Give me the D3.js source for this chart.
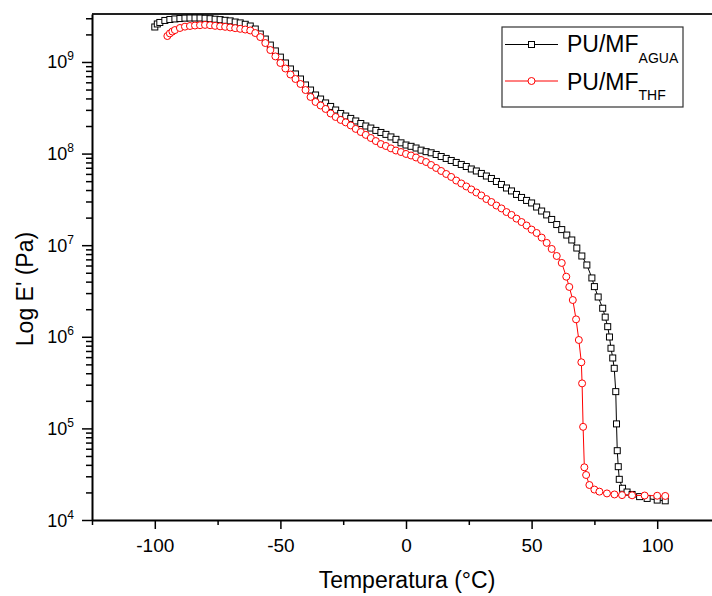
<!DOCTYPE html>
<html>
<head>
<meta charset="utf-8">
<script src="https://cdn.jsdelivr.net/npm/d3@7"></script>
<style>
  body { margin: 0; background: white; }
  svg { display: block; font-family: "Liberation Sans", Arial, sans-serif; }
</style>
</head>
<body>
<div id="chart"></div>
<script>
"use strict";

// PU/MF AGUA (black squares)
const tempAgua = [-100, -99, -98, -96, -94, -92, -90, -88, -86, -84, -82, -80, -78, -76, -74, -72, -70, -68, -66, -64, -62, -60,
  -58, -56, -54, -52, -50, -48, -46, -44, -42, -40, -38, -36, -34, -32, -30, -28, -26, -24, -22, -20, -18, -16, -14, -12, -10,
  -8, -6, -4, -2, 0, 2, 4, 6, 8, 10, 12, 14, 16, 18, 20, 22, 24, 26, 28, 30, 32, 34, 36, 38, 40, 42, 44, 46, 48, 50,
  52, 54, 56, 58, 60, 62, 64, 66, 68, 70, 72, 74, 75, 76.5, 78.3, 79.3, 80.3, 81, 81.6, 82.3, 82.9, 83.5, 83.8, 84.1, 84.5,
  84.9, 86.2, 88, 90, 93, 96, 100, 103.2];
const eAgua = [2.41e9, 2.60e9, 2.70e9, 2.84e9, 2.91e9, 2.95e9, 2.98e9, 3.01e9, 3.02e9, 3.02e9, 3.02e9, 3.00e9, 2.97e9, 2.93e9,
  2.90e9, 2.85e9, 2.81e9, 2.73e9, 2.67e9, 2.58e9, 2.47e9, 2.29e9,
  2.02e9, 1.78e9, 1.53e9, 1.32e9, 1.13e9, 9.75e8, 8.39e8, 7.40e8, 6.52e8, 5.61e8, 4.94e8, 4.36e8, 3.94e8, 3.57e8, 3.27e8,
  2.99e8, 2.74e8, 2.57e8, 2.42e8, 2.27e8, 2.13e8, 2.00e8, 1.90e8, 1.79e8, 1.70e8,
  1.62e8, 1.52e8, 1.43e8, 1.31e8, 1.24e8, 1.20e8, 1.15e8, 1.09e8, 1.05e8, 1.02e8, 9.78e7, 9.29e7, 8.85e7, 8.41e7, 8.00e7,
  7.61e7, 7.23e7, 6.79e7, 6.46e7, 6.07e7, 5.69e7, 5.35e7, 4.96e7, 4.60e7, 4.21e7, 3.91e7, 3.58e7, 3.32e7, 3.08e7, 2.89e7,
  2.61e7, 2.36e7, 2.14e7, 1.91e7, 1.68e7, 1.48e7, 1.29e7, 1.14e7, 9.31e6, 7.62e6, 6.08e6, 4.39e6, 3.53e6, 2.72e6, 2.05e6,
  1.64e6, 1.29e6, 9.95e5, 7.50e5, 5.87e5, 4.53e5, 2.52e5, 1.12e5, 5.71e4, 3.82e4,
  2.78e4, 2.22e4, 2.02e4, 1.90e4, 1.80e4, 1.72e4, 1.65e4, 1.62e4];

// PU/MF THF (red circles)
const tempThf = [-95, -94, -93, -92, -90, -88, -86, -84, -82, -80, -78, -76, -74, -72, -70, -68, -66, -64, -62, -60, -58, -56,
  -54, -52, -50, -48, -46, -44, -42, -40, -38, -36, -34, -32, -30, -28, -26, -24, -22, -20, -18, -16, -14, -12, -10, -8, -6,
  -4, -2, 0, 2, 4, 6, 8, 10, 12, 14, 16, 18, 20, 22, 24, 26, 28, 30, 32, 34, 36, 38, 40, 42, 44, 46, 48, 50, 52, 54, 56,
  58, 60, 62, 63.8, 65, 66.4, 67.7, 68.8, 69.8, 70.1, 70.5, 71, 71.7, 73, 75, 77, 80, 83, 86, 90, 95, 100, 103.2];
const eThf = [1.92e9, 2.05e9, 2.15e9, 2.23e9, 2.35e9, 2.43e9, 2.47e9, 2.50e9, 2.52e9, 2.54e9, 2.52e9, 2.48e9, 2.45e9, 2.42e9,
  2.38e9, 2.34e9, 2.30e9, 2.26e9, 2.21e9, 2.07e9, 1.87e9, 1.61e9,
  1.35e9, 1.15e9, 9.75e8, 8.49e8, 7.30e8, 6.52e8, 5.75e8, 4.94e8, 4.15e8, 3.66e8, 3.35e8, 3.07e8, 2.74e8, 2.51e8, 2.33e8,
  2.19e8, 2.03e8, 1.86e8, 1.72e8, 1.60e8, 1.48e8, 1.37e8, 1.27e8, 1.21e8, 1.14e8,
  1.08e8, 1.04e8, 9.91e7, 9.53e7, 9.06e7, 8.51e7, 8.09e7, 7.51e7, 6.97e7, 6.46e7, 5.99e7, 5.56e7, 5.08e7, 4.72e7, 4.38e7,
  4.06e7, 3.76e7, 3.49e7, 3.19e7, 2.96e7, 2.71e7, 2.52e7, 2.30e7, 2.14e7, 1.95e7, 1.79e7, 1.64e7, 1.48e7, 1.36e7, 1.21e7,
  1.06e7, 9.10e6, 7.62e6, 6.40e6, 4.53e6, 3.50e6, 2.52e6, 1.55e6, 9.23e5, 5.27e5, 3.10e5, 1.04e5, 3.76e4, 3.10e4, 2.41e4,
  2.15e4, 2.04e4, 1.95e4, 1.90e4, 1.87e4, 1.86e4, 1.85e4, 1.84e4, 1.83e4];

const xMajorTicks = [-100, -50, 0, 50, 100];
const xMinorTicks = [-125, -75, -25, 25, 75, 125];
const yExponents = [4, 5, 6, 7, 8, 9];
const xTitle = "Temperatura (°C)";
const yTitle = "Log E' (Pa)";

const width = 712, height = 596;
const plotLeft = 92, plotRight = 720, plotTop = 14, plotBottom = 520;

const svg = d3.select("#chart").append("svg")
  .attr("width", width)
  .attr("height", height);

const x = d3.scaleLinear().domain([-125, 125]).range([plotLeft, plotRight]);
const y = d3.scaleLog().domain([1e4, 3.34e9]).range([plotBottom, plotTop]);

// frame (top and right)
svg.append("path")
  .attr("d", `M${plotLeft},${plotTop}H${plotRight}V${plotBottom}`)
  .attr("fill", "none")
  .attr("stroke", "#222")
  .attr("stroke-width", 2);

// x axis
const xAxis = svg.append("g")
  .attr("transform", `translate(0,${plotBottom})`)
  .call(d3.axisBottom(x).tickValues(xMajorTicks).tickSize(9).tickSizeOuter(0).tickPadding(10)
    .tickFormat(d => String(d)));
xAxis.append("g")
  .call(d3.axisBottom(x).tickValues(xMinorTicks).tickSize(5).tickSizeOuter(0).tickFormat(""))
  .select(".domain").remove();
xAxis.selectAll(".domain").attr("stroke", "black").attr("stroke-width", 2);
xAxis.selectAll("line").attr("stroke", "black").attr("stroke-width", 1.5);
xAxis.selectAll("text").attr("fill", "black").style("font-size", "19px");

// y axis
const yMinor = [];
yExponents.forEach(k => {
  for (let m = 2; m <= 9; m++) {
    const v = m * Math.pow(10, k);
    if (v <= y.domain()[1]) yMinor.push(v);
  }
});
const yAxis = svg.append("g")
  .attr("transform", `translate(${plotLeft},0)`)
  .call(d3.axisLeft(y).tickValues(yExponents.map(k => Math.pow(10, k))).tickSize(10).tickSizeOuter(0).tickFormat(""));
yAxis.append("g")
  .call(d3.axisLeft(y).tickValues(yMinor).tickSize(6).tickSizeOuter(0).tickFormat(""))
  .select(".domain").remove();
yAxis.selectAll(".domain").attr("stroke", "black").attr("stroke-width", 2);
yAxis.selectAll("line").attr("stroke", "black").attr("stroke-width", 1.5);

const yLabels = svg.append("g").selectAll("text")
  .data(yExponents)
  .join("text")
  .attr("x", 74)
  .attr("y", d => y(Math.pow(10, d)) + 6.5)
  .attr("text-anchor", "end")
  .attr("fill", "black")
  .style("font-size", "18px");
yLabels.append("tspan").text("10");
yLabels.append("tspan").attr("dy", -8).style("font-size", "12px").text(d => d);

// axis titles
svg.append("text")
  .attr("x", 407)
  .attr("y", 588)
  .attr("text-anchor", "middle")
  .style("font-size", "23px")
  .text(xTitle);

svg.append("text")
  .attr("transform", "translate(33,289) rotate(-90)")
  .attr("text-anchor", "middle")
  .style("font-size", "23px")
  .text(yTitle);

// series
const line = d3.line().x(d => x(d[0])).y(d => y(d[1]));
const agua = tempAgua.map((t, i) => [t, eAgua[i]]);
const thf = tempThf.map((t, i) => [t, eThf[i]]);

svg.append("path")
  .datum(agua)
  .attr("d", line)
  .attr("fill", "none")
  .attr("stroke", "black")
  .attr("stroke-width", 1);

svg.append("g").selectAll("rect")
  .data(agua)
  .join("rect")
  .attr("x", d => x(d[0]) - 3)
  .attr("y", d => y(d[1]) - 3)
  .attr("width", 6)
  .attr("height", 6)
  .attr("fill", "white")
  .attr("stroke", "black")
  .attr("stroke-width", 1);

svg.append("path")
  .datum(thf)
  .attr("d", line)
  .attr("fill", "none")
  .attr("stroke", "red")
  .attr("stroke-width", 1);

svg.append("g").selectAll("circle")
  .data(thf)
  .join("circle")
  .attr("cx", d => x(d[0]))
  .attr("cy", d => y(d[1]))
  .attr("r", 3.5)
  .attr("fill", "white")
  .attr("stroke", "red")
  .attr("stroke-width", 1);

// legend
const legend = svg.append("g");
legend.append("rect")
  .attr("x", 502).attr("y", 27)
  .attr("width", 181).attr("height", 80)
  .attr("fill", "white")
  .attr("stroke", "#333")
  .attr("stroke-width", 1.2);

legend.append("line")
  .attr("x1", 505).attr("x2", 558).attr("y1", 44.5).attr("y2", 44.5)
  .attr("stroke", "black");
legend.append("rect")
  .attr("x", 528.5).attr("y", 41.5).attr("width", 6).attr("height", 6)
  .attr("fill", "white").attr("stroke", "black");
const t1 = legend.append("text").attr("x", 567).attr("y", 52).style("font-size", "23px");
t1.append("tspan").text("PU/MF");
t1.append("tspan").attr("dy", 10.5).style("font-size", "14px").text("AGUA");

legend.append("line")
  .attr("x1", 505).attr("x2", 558).attr("y1", 81).attr("y2", 81)
  .attr("stroke", "red");
legend.append("circle")
  .attr("cx", 531.5).attr("cy", 81).attr("r", 3.5)
  .attr("fill", "white").attr("stroke", "red");
const t2 = legend.append("text").attr("x", 567).attr("y", 90).style("font-size", "23px");
t2.append("tspan").text("PU/MF");
t2.append("tspan").attr("dy", 10).style("font-size", "14px").text("THF");
</script>
</body>
</html>
